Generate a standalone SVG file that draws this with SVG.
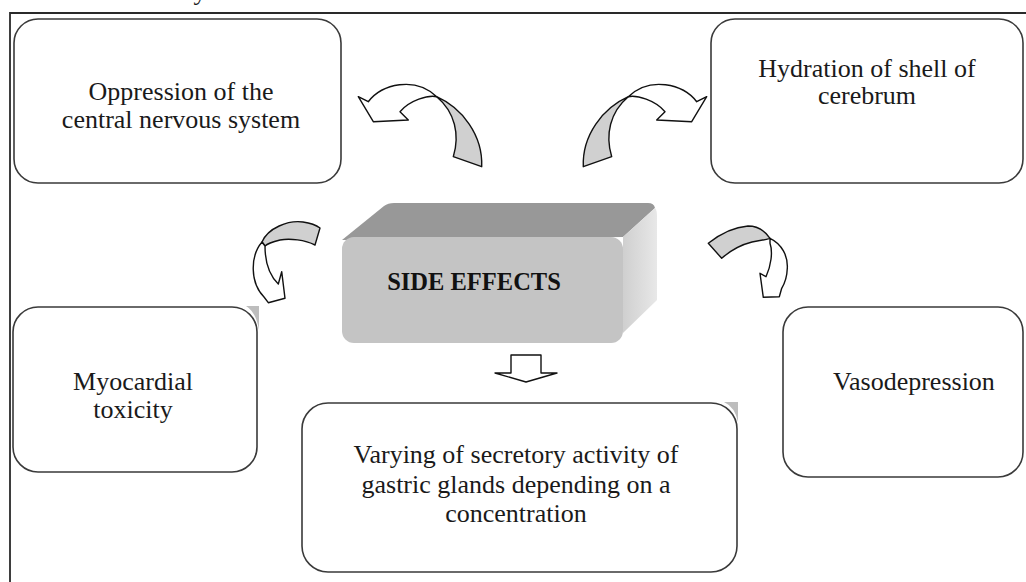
<svg xmlns="http://www.w3.org/2000/svg" width="1026" height="582" viewBox="0 0 1026 582">
<style>
.box{fill:#fff;stroke:#3a3a3a;stroke-width:1.6}
.t{font-family:"Liberation Serif","Times New Roman",serif;font-size:26px;fill:#1a1a1a;text-anchor:middle}
.tb{font-family:"Liberation Serif","Times New Roman",serif;font-size:24.5px;font-weight:bold;fill:#111;text-anchor:middle}
.arw{fill:#fff;stroke:#111;stroke-width:1.4;stroke-linejoin:round}
.arg{fill:#d0d0d0;stroke:#111;stroke-width:1.4;stroke-linejoin:round}
.shadow{fill:#bdbdbd}
</style>
<defs>
<linearGradient id="side" x1="0" y1="0" x2="1" y2="0">
<stop offset="0" stop-color="#cfcfcf"/>
<stop offset="1" stop-color="#e8e8e8"/>
</linearGradient>
</defs>
<rect width="1026" height="582" fill="#fff"/>
<text class="t" x="200" y="0">y</text>
<g id="frame" fill="none" stroke="#2a2a2a" stroke-width="1.8">
<path d="M10,582 L10,13 L1026,13"/>
</g>
<g id="node-oppression">
<rect class="box" x="14" y="19" width="327" height="164" rx="24"/>
<text class="t" x="181" y="100">Oppression of the</text>
<text class="t" x="181" y="128">central nervous system</text>
</g>
<g id="node-hydration">
<rect class="box" x="711" y="19" width="312" height="164" rx="24"/>
<text class="t" x="867" y="77">Hydration of shell of</text>
<text class="t" x="867" y="104">cerebrum</text>
</g>
<g id="node-side-effects">
<path d="M342,240 L384,206 Q388,203 394,203 L648,203 Q654,203 655,208 L623,237 Z" fill="#989898"/>
<path d="M623,237 L655,208 Q657,210 657,216 L657,300 L623,333 Z" fill="url(#side)"/>
<rect x="342" y="237" width="281" height="106" rx="12" fill="#c4c4c4"/>
<text class="tb" x="474" y="290">SIDE EFFECTS</text>
</g>
<g id="node-myocardial">
<path class="shadow" d="M246,306 L259,306 L259,330 Q256,312 246,306 Z"/>
<rect class="box" x="13" y="307" width="244" height="165" rx="25"/>
<text class="t" x="133" y="390">Myocardial</text>
<text class="t" x="133" y="418">toxicity</text>
</g>
<g id="node-vasodepression">
<rect class="box" x="783" y="307" width="240" height="170" rx="25"/>
<text class="t" x="914" y="390">Vasodepression</text>
</g>
<g id="node-varying">
<path class="shadow" d="M724,402 L738,402 L738,422 Q735,407 724,402 Z"/>
<rect class="box" x="302" y="403" width="435" height="169" rx="26"/>
<text class="t" x="516" y="463">Varying of secretory activity of</text>
<text class="t" x="516" y="493">gastric glands depending on a</text>
<text class="t" x="516" y="522">concentration</text>
</g>
<g id="connectors">
<g id="arrow-top-left">
<path class="arg" d="M436.7,96.7 C462,108 483,135 481.7,166.7 L453.3,156.7 C460,135 455,112 436.7,96.7 Z"/>
<path class="arw" d="M358.3,96.7 L368.3,101.7 C382,84 415,76 436.7,96.7 C428,95 410,100 400,111.7 L408.3,120 L373.3,121.7 Z"/>
</g>
<g id="arrow-top-right" transform="translate(1065,0) scale(-1,1)">
<path class="arg" d="M436.7,96.7 C462,108 483,135 481.7,166.7 L453.3,156.7 C460,135 455,112 436.7,96.7 Z"/>
<path class="arw" d="M358.3,96.7 L368.3,101.7 C382,84 415,76 436.7,96.7 C428,95 410,100 400,111.7 L408.3,120 L373.3,121.7 Z"/>
</g>
<g id="arrow-mid-left">
<path class="arg" d="M262,242 C268,228 288,220 303,222 C310,223 316,225 320,228 L315,245 C305,240 290,238 280,240 C272,242 267,244 265,246 Z"/>
<path class="arw" d="M262,242 C250,256 250,283 264,297 L268.3,302.7 L285,298.3 L281.7,271.7 L278.3,284 C270,276 265,262 265,246 Z"/>
</g>
<g id="arrow-mid-right">
<path class="arg" d="M708.3,243.3 C720,234 735,227 748,226 C758,226 765,231 770,238.3 C764,240 758,241 752,242 C740,245 730,251 721.7,258.3 Z"/>
<path class="arw" d="M770,238.3 C782,244 788,256 787.3,268.3 C787,277 785,283 781.7,288.3 L779.3,296.7 L763.3,297.3 L760,273.3 L766,276.7 C771,266 773,252 770,243.3 Z"/>
</g>
<g id="arrow-down">
<path class="arw" d="M511,355 L541,355 L541,373 L557,373 L526,382 L495,373 L511,373 Z"/>
</g>
</g>
</svg>
